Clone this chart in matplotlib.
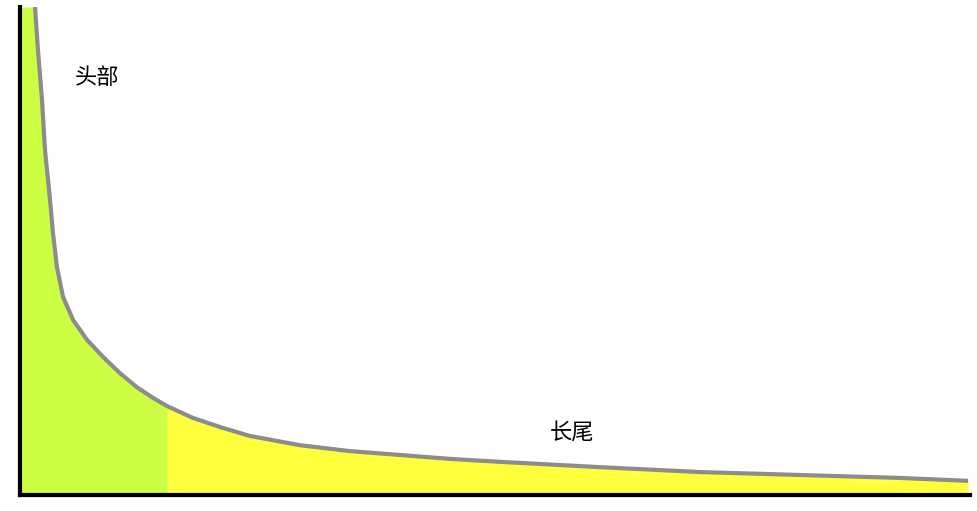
import matplotlib
matplotlib.use('Agg')
import matplotlib.pyplot as plt

plt.rcParams['font.family'] = ['Noto Sans CJK SC', 'DejaVu Sans']

# 排名 (x) 与 数量 (y)
rank = [1.58, 1.89, 2.32, 2.63, 3.16, 3.47, 3.89, 4.53, 5.58, 7.05, 8.74, 10.5,
        12.3, 14.0, 15.5, 18.2, 21.1, 24.2, 29.5, 34.7, 40.0, 45.3, 50.5, 61.1,
        71.6, 82.1, 92.6, 99.8]
value = [100, 91.2, 80.9, 70.7, 60.5, 53.7, 46.7, 40.6, 35.9, 31.8, 28.3, 25.0,
         22.1, 19.9, 18.2, 15.8, 13.9, 12.1, 10.2, 9.0, 8.2, 7.4, 6.8, 5.7,
         4.7, 4.1, 3.5, 2.9]
head_end = 15.5
head_label = '头部'
tail_label = '长尾'

fig = plt.figure(figsize=(9.78, 5.11), dpi=100)
ax = fig.add_axes([20 / 978, 16 / 511, 950 / 978, 488 / 511])

x_fill = [0] + rank
y_fill = [value[0]] + value
ax.fill_between(x_fill, y_fill, 0, where=[x <= head_end for x in x_fill],
                color='#ccff44', linewidth=0)
ax.fill_between(x_fill, y_fill, 0, where=[x >= head_end for x in x_fill],
                color='#ffff3c', linewidth=0)
ax.plot(rank, value, color='#8c8c8c', linewidth=3, solid_capstyle='butt',
        solid_joinstyle='round')

ax.text(8.1, 85.5, head_label, fontsize=16, ha='center', va='center')
ax.text(58.1, 12.9, tail_label, fontsize=16, ha='center', va='center')

ax.set_xlim(0, 100)
ax.set_ylim(0, 100)
for s in ['top', 'right']:
    ax.spines[s].set_visible(False)
for s in ['left', 'bottom']:
    ax.spines[s].set_linewidth(3)
    ax.spines[s].set_color('black')
ax.set_xticks([])
ax.set_yticks([])

fig.savefig('out.png', dpi=100)
